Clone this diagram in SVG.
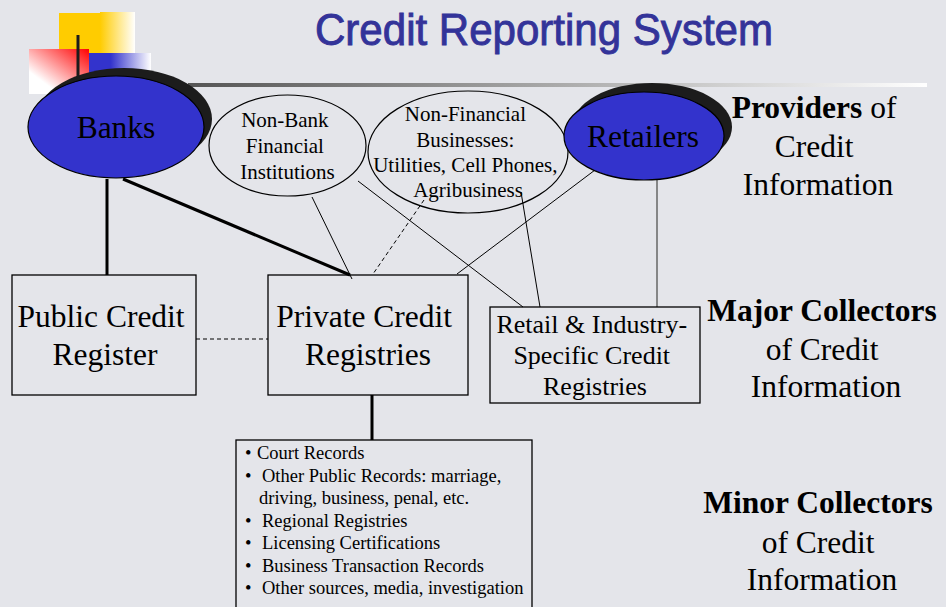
<svg xmlns="http://www.w3.org/2000/svg" width="946" height="607" viewBox="0 0 946 607">
  <defs>
    <linearGradient id="goldFade" x1="0" y1="0" x2="1" y2="0">
      <stop offset="0" stop-color="#ffcc00"/>
      <stop offset="1" stop-color="#ffffff"/>
    </linearGradient>
    <linearGradient id="redFade" x1="0" y1="1" x2="1" y2="0">
      <stop offset="0" stop-color="#ffffff"/>
      <stop offset="0.25" stop-color="#ffffff"/>
      <stop offset="1" stop-color="#ff0000"/>
    </linearGradient>
    <linearGradient id="blueFade" x1="0" y1="0" x2="1" y2="0">
      <stop offset="0" stop-color="#3333cc"/>
      <stop offset="0.35" stop-color="#3333cc"/>
      <stop offset="1" stop-color="#ffffff"/>
    </linearGradient>
    <linearGradient id="ruleFade" x1="0" y1="0" x2="1" y2="0">
      <stop offset="0" stop-color="#555555"/>
      <stop offset="1" stop-color="#ffffff"/>
    </linearGradient>
    <style>
      .serif { font-family: "Liberation Serif", "Times New Roman", serif; fill: #000; }
      .big { font-size: 31.5px; }
      .oval { font-size: 21px; }
      .list { font-size: 18.5px; }
      .retail { font-size: 26px; }
      .bold { font-weight: bold; }
      .provider { fill: #3333cc; stroke: #000; stroke-width: 1.2; }
      .shadow { fill: #1c1c1c; }
      .plainOval { fill: none; stroke: #000; stroke-width: 1.2; }
      .box { fill: none; stroke: #000; stroke-width: 1.3; }
      .thick { stroke: #000; stroke-width: 3; fill: none; }
      .thin { stroke: #000; stroke-width: 1; fill: none; }
      .dash { stroke: #000; stroke-width: 1; stroke-dasharray: 4 3; fill: none; }
      .grey { stroke: #666; stroke-width: 1.5; fill: none; }
      .title { font-family: "Liberation Sans", Arial, sans-serif; font-size: 44px; fill: #333399; stroke: #333399; stroke-width: 0.9; }
    </style>
  </defs>

  <!-- page background -->
  <rect width="946" height="607" fill="#e4e5ea"/>

  <!-- title rule -->
  <rect x="188" y="83" width="739" height="4" fill="url(#ruleFade)"/>

  <!-- corner ornament -->
  <g id="ornament">
    <rect x="59" y="13" width="42" height="40" fill="#ffcc00"/>
    <rect x="100" y="12" width="35" height="41" fill="url(#goldFade)"/>
    <rect x="29" y="49" width="60" height="45" fill="url(#redFade)"/>
    <rect x="89" y="53" width="62" height="20" fill="url(#blueFade)"/>
    <line x1="78" y1="35" x2="78" y2="80" stroke="#1c1c1c" stroke-width="3"/>
  </g>

  <!-- title -->
  <text class="title" x="315" y="45" textLength="458" lengthAdjust="spacingAndGlyphs">Credit Reporting System</text>

  <!-- connectors -->
  <g id="connectors">
    <line class="thick" x1="107" y1="179" x2="107" y2="275"/>
    <line class="thick" x1="123" y1="179" x2="350" y2="275"/>
    <line class="thin" x1="312" y1="197" x2="352" y2="279"/>
    <line class="thin" x1="358" y1="181" x2="523" y2="307"/>
    <line class="dash" x1="424" y1="200" x2="373" y2="274"/>
    <line class="thin" x1="521" y1="192" x2="540" y2="307"/>
    <line class="thin" x1="595" y1="170" x2="457" y2="274"/>
    <line class="grey" x1="657" y1="177" x2="657" y2="307"/>
    <line class="dash" x1="196" y1="339" x2="268" y2="339"/>
    <line class="thick" x1="372" y1="395" x2="372" y2="440"/>
  </g>

  <!-- providers -->
  <g id="banks">
    <ellipse class="shadow" cx="124" cy="119" rx="88" ry="51"/>
    <ellipse class="provider" cx="116" cy="127" rx="88" ry="51"/>
    <text class="serif big" x="116" y="138" text-anchor="middle">Banks</text>
  </g>

  <g id="non-bank">
    <ellipse class="plainOval" cx="287.5" cy="145.5" rx="78.5" ry="50.5"/>
    <text class="serif oval" text-anchor="middle">
      <tspan x="287.5" y="127">Non-Bank</tspan>
      <tspan x="287.5" y="153">Financial</tspan>
      <tspan x="287.5" y="179">Institutions</tspan>
    </text>
  </g>

  <g id="non-financial">
    <ellipse class="plainOval" cx="468" cy="152" rx="100" ry="61"/>
    <text class="serif oval" text-anchor="middle">
      <tspan x="468" y="121">Non-Financial</tspan>
      <tspan x="468" y="147">Businesses:</tspan>
      <tspan x="468" y="172">Utilities, Cell Phones,</tspan>
      <tspan x="468" y="197">Agribusiness</tspan>
    </text>
  </g>

  <g id="retailers">
    <ellipse class="shadow" cx="652" cy="127" rx="80" ry="44"/>
    <ellipse class="provider" cx="644" cy="136" rx="80" ry="44"/>
    <text class="serif big" x="643" y="147" text-anchor="middle">Retailers</text>
  </g>

  <!-- major collectors -->
  <g id="public-register">
    <rect class="box" x="12" y="275" width="184" height="120"/>
    <text class="serif big" text-anchor="middle">
      <tspan x="105" y="327">Public Credit</tspan>
      <tspan x="105" y="365">Register</tspan>
    </text>
  </g>

  <g id="private-registries">
    <rect class="box" x="268" y="275" width="200" height="120"/>
    <text class="serif big" text-anchor="middle">
      <tspan x="368" y="327">Private Credit</tspan>
      <tspan x="368" y="365">Registries</tspan>
    </text>
  </g>

  <g id="retail-registries">
    <rect class="box" x="490" y="307" width="210" height="96"/>
    <text class="serif retail" text-anchor="middle">
      <tspan x="595" y="333">Retail &amp; Industry-</tspan>
      <tspan x="595" y="364">Specific Credit</tspan>
      <tspan x="595" y="395">Registries</tspan>
    </text>
  </g>

  <!-- minor collectors -->
  <g id="minor-sources">
    <rect class="box" x="236" y="440" width="296" height="180"/>
    <text class="serif list">
      <tspan x="245" y="459">•</tspan><tspan x="257" y="459">Court Records</tspan>
      <tspan x="245" y="482">•</tspan><tspan x="262" y="482">Other Public Records: marriage,</tspan>
      <tspan x="259" y="504">driving, business, penal, etc.</tspan>
      <tspan x="245" y="527">•</tspan><tspan x="262" y="527">Regional Registries</tspan>
      <tspan x="245" y="549">•</tspan><tspan x="262" y="549">Licensing Certifications</tspan>
      <tspan x="245" y="572">•</tspan><tspan x="262" y="572">Business Transaction Records</tspan>
      <tspan x="245" y="594">•</tspan><tspan x="262" y="594">Other sources, media, investigation</tspan>
    </text>
  </g>

  <!-- tier labels -->
  <g id="tier-providers">
    <text class="serif big" text-anchor="middle">
      <tspan x="818" y="118"><tspan class="bold">Providers</tspan> of</tspan>
      <tspan x="818" y="157">Credit</tspan>
      <tspan x="818" y="195">Information</tspan>
    </text>
  </g>

  <g id="tier-major">
    <text class="serif big" text-anchor="middle">
      <tspan x="826" y="321" class="bold">Major Collectors</tspan>
      <tspan x="826" y="360">of Credit</tspan>
      <tspan x="826" y="397">Information</tspan>
    </text>
  </g>

  <g id="tier-minor">
    <text class="serif big" text-anchor="middle">
      <tspan x="822" y="513" class="bold">Minor Collectors</tspan>
      <tspan x="822" y="553">of Credit</tspan>
      <tspan x="822" y="590">Information</tspan>
    </text>
  </g>
</svg>
